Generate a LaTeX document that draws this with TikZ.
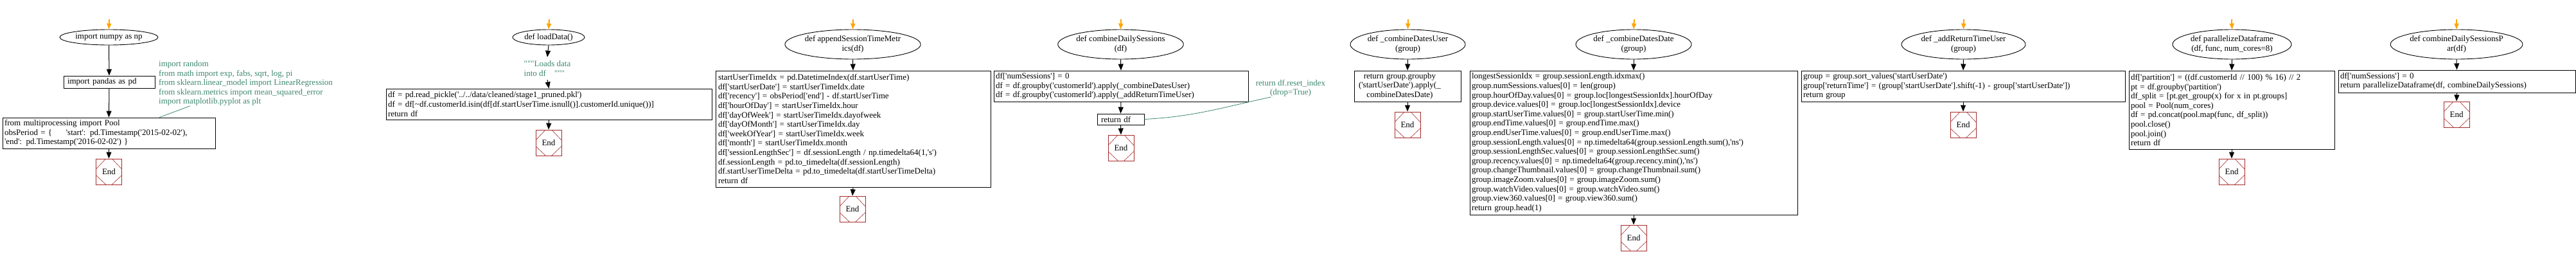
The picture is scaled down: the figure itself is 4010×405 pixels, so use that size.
\documentclass[tikz,border=0pt]{standalone}
\usepackage{fontspec}
\setmainfont{Liberation Serif}[Ligatures=TeXOff]
\usetikzlibrary{shapes.geometric,arrows.meta,calc}
\definecolor{cmtc}{RGB}{60,135,110}
\definecolor{endc}{RGB}{165,42,42}
\definecolor{startc}{RGB}{255,165,0}
\newcommand\cl[1]{\mbox{#1}}
\begin{document}
\begin{tikzpicture}[x=1pt,y=-1pt,
  every node/.style={font=\fontsize{13}{14.6}\selectfont},
  ell/.style={draw, ellipse, line width=0.9pt, inner sep=0pt, align=center},
  codebox/.style={draw, line width=0.9pt, inner xsep=3pt, inner ysep=0pt, align=left},
  note/.style={text=cmtc, inner sep=0pt},
  endbox/.style={draw=endc, line width=0.9pt, minimum size=40pt, inner sep=0pt,
    path picture={
      \path (path picture bounding box.north west) coordinate (pnw)
            (path picture bounding box.north east) coordinate (pne)
            (path picture bounding box.south west) coordinate (psw)
            (path picture bounding box.south east) coordinate (pse);
      \draw[endc, line width=0.6pt]
        ($(pnw)!0.40!(psw)$) -- ($(pnw)!0.38!(pne)$)
        ($(pnw)!0.62!(pne)$) -- ($(pne)!0.40!(pse)$)
        ($(pne)!0.64!(pse)$) -- ($(psw)!0.62!(pse)$)
        ($(psw)!0.38!(pse)$) -- ($(pnw)!0.64!(psw)$);
    }},
  flow/.style={draw, line width=1pt, -{Triangle[length=10pt,width=8pt]}},
  startarrow/.style={draw=startc, line width=2pt, -{Triangle[length=9pt,width=7pt]}, color=startc},
  noteline/.style={draw=cmtc, line width=0.8pt}
]
\useasboundingbox (0,0) rectangle (4010,405);

% ---------- graph 1 ----------
\coordinate (s1) at (170,30);
\node[ell, minimum width=153pt, minimum height=24pt] (e1) at (169.5,58) {import numpy as np};
\node[codebox, inner xsep=6pt, text width=130pt, minimum height=19pt] (b11) at (170,127.5) {\cl{import pandas as pd}};
\node[codebox, text width=325pt, minimum height=48pt] (b12) at (169.5,207)
  {\cl{from multiprocessing import Pool}\\
   \cl{obsPeriod = \{\ \ \ \ \ 'start': pd.Timestamp('2015-02-02'),}\\
   \cl{'end': pd.Timestamp('2016-02-02') \}}};
\node[endbox] (x1) at (169.5,267) {End};
\node[note, anchor=west, align=left] (n1) at (247,129.5)
  {import random\\
   from math import exp, fabs, sqrt, log, pi\\
   from sklearn.linear\_model import LinearRegression\\
   from sklearn.metrics import mean\_squared\_error\\
   import matplotlib.pyplot as plt};
\draw[startarrow] (s1) -- (e1.north);
\draw[flow] (e1.south) -- (b11.north);
\draw[flow] (b11.south) -- (b12.north);
\draw[flow] (b12.south) -- (x1.north);
\draw[noteline] ($(n1.south west)!0.18!(n1.south east)$) -- ($(b12.north west)!0.737!(b12.north east)$);

% ---------- graph 2 ----------
\coordinate (s2) at (855,30);
\node[ell, minimum width=112pt, minimum height=24pt] (e2) at (854,58) {def loadData()};
\node[note, align=left, minimum height=35pt] (n2) at (852,106.5) {"""Loads data\\into df\ \ \ \ """};
\node[codebox, text width=501pt, minimum height=48pt] (b21) at (854.5,162)
  {\cl{df = pd.read\_pickle('../../data/cleaned/stage1\_pruned.pkl')}\\
   \cl{df = df[\textasciitilde df.customerId.isin(df[df.startUserTime.isnull()].customerId.unique())]}\\
   \cl{return df}};
\node[endbox] (x2) at (854,222) {End};
\draw[startarrow] (s2) -- (e2.north);
\draw[flow] (e2.south) -- (n2.north);
\draw[flow] (n2.south) -- (b21.north);
\draw[flow] (b21.south) -- (x2.north);

% ---------- graph 3 ----------
\coordinate (s3) at (1328,30);
\node[ell, minimum width=209pt, minimum height=46pt] (e3) at (1327.5,69) {def appendSessionTimeMetr\\ics(df)};
\node[codebox, inner xsep=4pt, text width=420pt, minimum height=181pt] (b31) at (1328,200.5)
  {\cl{startUserTimeIdx = pd.DatetimeIndex(df.startUserTime)}\\
   \cl{df['startUserDate'] = startUserTimeIdx.date}\\
   \cl{df['recency'] = obsPeriod['end'] - df.startUserTime}\\
   \cl{df['hourOfDay'] = startUserTimeIdx.hour}\\
   \cl{df['dayOfWeek'] = startUserTimeIdx.dayofweek}\\
   \cl{df['dayOfMonth'] = startUserTimeIdx.day}\\
   \cl{df['weekOfYear'] = startUserTimeIdx.week}\\
   \cl{df['month'] = startUserTimeIdx.month}\\
   \cl{df['sessionLengthSec'] = df.sessionLength / np.timedelta64(1,'s')}\\
   \cl{df.sessionLength = pd.to\_timedelta(df.sessionLength)}\\
   \cl{df.startUserTimeDelta = pd.to\_timedelta(df.startUserTimeDelta)}\\
   \cl{return df}};
\node[endbox] (x3) at (1327,325) {End};
\draw[startarrow] (s3) -- (e3.north);
\draw[flow] (e3.south) -- (b31.north);
\draw[flow] (b31.south) -- (x3.north);

% ---------- graph 4 ----------
\coordinate (s4) at (1745,30);
\node[ell, minimum width=191pt, minimum height=46pt] (e4) at (1744.5,69) {def combineDailySessions\\(df)};
\node[codebox, text width=390pt, minimum height=48pt] (b41) at (1745,134)
  {\cl{df['numSessions'] = 0}\\
   \cl{df = df.groupby('customerId').apply(\_combineDatesUser)}\\
   \cl{df = df.groupby('customerId').apply(\_addReturnTimeUser)}};
\node[codebox, inner xsep=6pt, text width=61pt, minimum height=17pt] (b42) at (1744.5,185.5) {\cl{return df}};
\node[endbox] (x4) at (1745,230) {End};
\node[note, align=center] (n4) at (2009,137.5) {return df.reset\_index\\(drop=True)};
\draw[startarrow] (s4) -- (e4.north);
\draw[flow] (e4.south) -- (b41.north);
\draw[flow] (b41.south) -- (b42.north);
\draw[flow] (b42.south) -- (x4.north);
\draw[noteline] ($(n4.south west)!0.22!(n4.south east)$) to[out=192, in=3] (b42.east);

% ---------- graph 5 ----------
\coordinate (s5) at (2192,30);
\node[ell, minimum width=179pt, minimum height=46pt] (e5) at (2191.5,69) {def \_combineDatesUser\\(group)};
\node[codebox, inner xsep=7pt, text width=152pt, minimum height=48pt] (b51) at (2191,134)
  {\begin{tabular}{@{}c@{}}return group.groupby\\('startUserDate').apply(\_\\combineDatesDate)\end{tabular}};
\node[endbox] (x5) at (2191,194) {End};
\draw[startarrow] (s5) -- (e5.north);
\draw[flow] (e5.south) -- (b51.north);
\draw[flow] (b51.south) -- (x5.north);

% ---------- graph 6 ----------
\coordinate (s6) at (2544,30);
\node[ell, minimum width=180pt, minimum height=46pt] (e6) at (2543,69) {def \_combineDatesDate\\(group)};
\node[codebox, text width=504pt, minimum height=224pt] (b61) at (2543,222)
  {\cl{longestSessionIdx = group.sessionLength.idxmax()}\\
   \cl{group.numSessions.values[0] = len(group)}\\
   \cl{group.hourOfDay.values[0] = group.loc[longestSessionIdx].hourOfDay}\\
   \cl{group.device.values[0] = group.loc[longestSessionIdx].device}\\
   \cl{group.startUserTime.values[0] = group.startUserTime.min()}\\
   \cl{group.endTime.values[0] = group.endTime.max()}\\
   \cl{group.endUserTime.values[0] = group.endUserTime.max()}\\
   \cl{group.sessionLength.values[0] = np.timedelta64(group.sessionLength.sum(),'ns')}\\
   \cl{group.sessionLengthSec.values[0] = group.sessionLengthSec.sum()}\\
   \cl{group.recency.values[0] = np.timedelta64(group.recency.min(),'ns')}\\
   \cl{group.changeThumbnail.values[0] = group.changeThumbnail.sum()}\\
   \cl{group.imageZoom.values[0] = group.imageZoom.sum()}\\
   \cl{group.watchVideo.values[0] = group.watchVideo.sum()}\\
   \cl{group.view360.values[0] = group.view360.sum()}\\
   \cl{return group.head(1)}};
\node[endbox] (x6) at (2543,370) {End};
\draw[startarrow] (s6) -- (e6.north);
\draw[flow] (e6.south) -- (b61.north);
\draw[flow] (b61.south) -- (x6.north);

% ---------- graph 7 ----------
\coordinate (s7) at (3057,30);
\node[ell, minimum width=193pt, minimum height=46pt] (e7) at (3056.5,69) {def \_addReturnTimeUser\\(group)};
\node[codebox, text width=498pt, minimum height=48pt] (b71) at (3056,134)
  {\cl{group = group.sort\_values('startUserDate')}\\
   \cl{group['returnTime'] = (group['startUserDate'].shift(-1) - group['startUserDate'])}\\
   \cl{return group}};
\node[endbox] (x7) at (3056,194) {End};
\draw[startarrow] (s7) -- (e7.north);
\draw[flow] (e7.south) -- (b71.north);
\draw[flow] (b71.south) -- (x7.north);

% ---------- graph 8 ----------
\coordinate (s8) at (3474,30);
\node[ell, minimum width=185pt, minimum height=46pt] (e8) at (3474.5,69) {def parallelizeDataframe\\(df, func, num\_cores=8)};
\node[codebox, text width=314pt, minimum height=122pt] (b81) at (3474,171)
  {\cl{df['partition'] = ((df.customerId // 100) \% 16) // 2}\\
   \cl{pt = df.groupby('partition')}\\
   \cl{df\_split = [pt.get\_group(x) for x in pt.groups]}\\
   \cl{pool = Pool(num\_cores)}\\
   \cl{df = pd.concat(pool.map(func, df\_split))}\\
   \cl{pool.close()}\\
   \cl{pool.join()}\\
   \cl{return df}};
\node[endbox] (x8) at (3474,267) {End};
\draw[startarrow] (s8) -- (e8.north);
\draw[flow] (e8.south) -- (b81.north);
\draw[flow] (b81.south) -- (x8.north);

% ---------- graph 9 ----------
\coordinate (s9) at (3824,30);
\node[ell, minimum width=202pt, minimum height=46pt] (e9) at (3824,69) {def combineDailySessionsP\\ar(df)};
\node[codebox, text width=363pt, minimum height=35pt] (b91) at (3824.5,126.5)
  {\cl{df['numSessions'] = 0}\\
   \cl{return parallelizeDataframe(df, combineDailySessions)}};
\node[endbox] (x9) at (3824,178) {End};
\draw[startarrow] (s9) -- (e9.north);
\draw[flow] (e9.south) -- (b91.north);
\draw[flow] (b91.south) -- (x9.north);
\end{tikzpicture}
\end{document}
